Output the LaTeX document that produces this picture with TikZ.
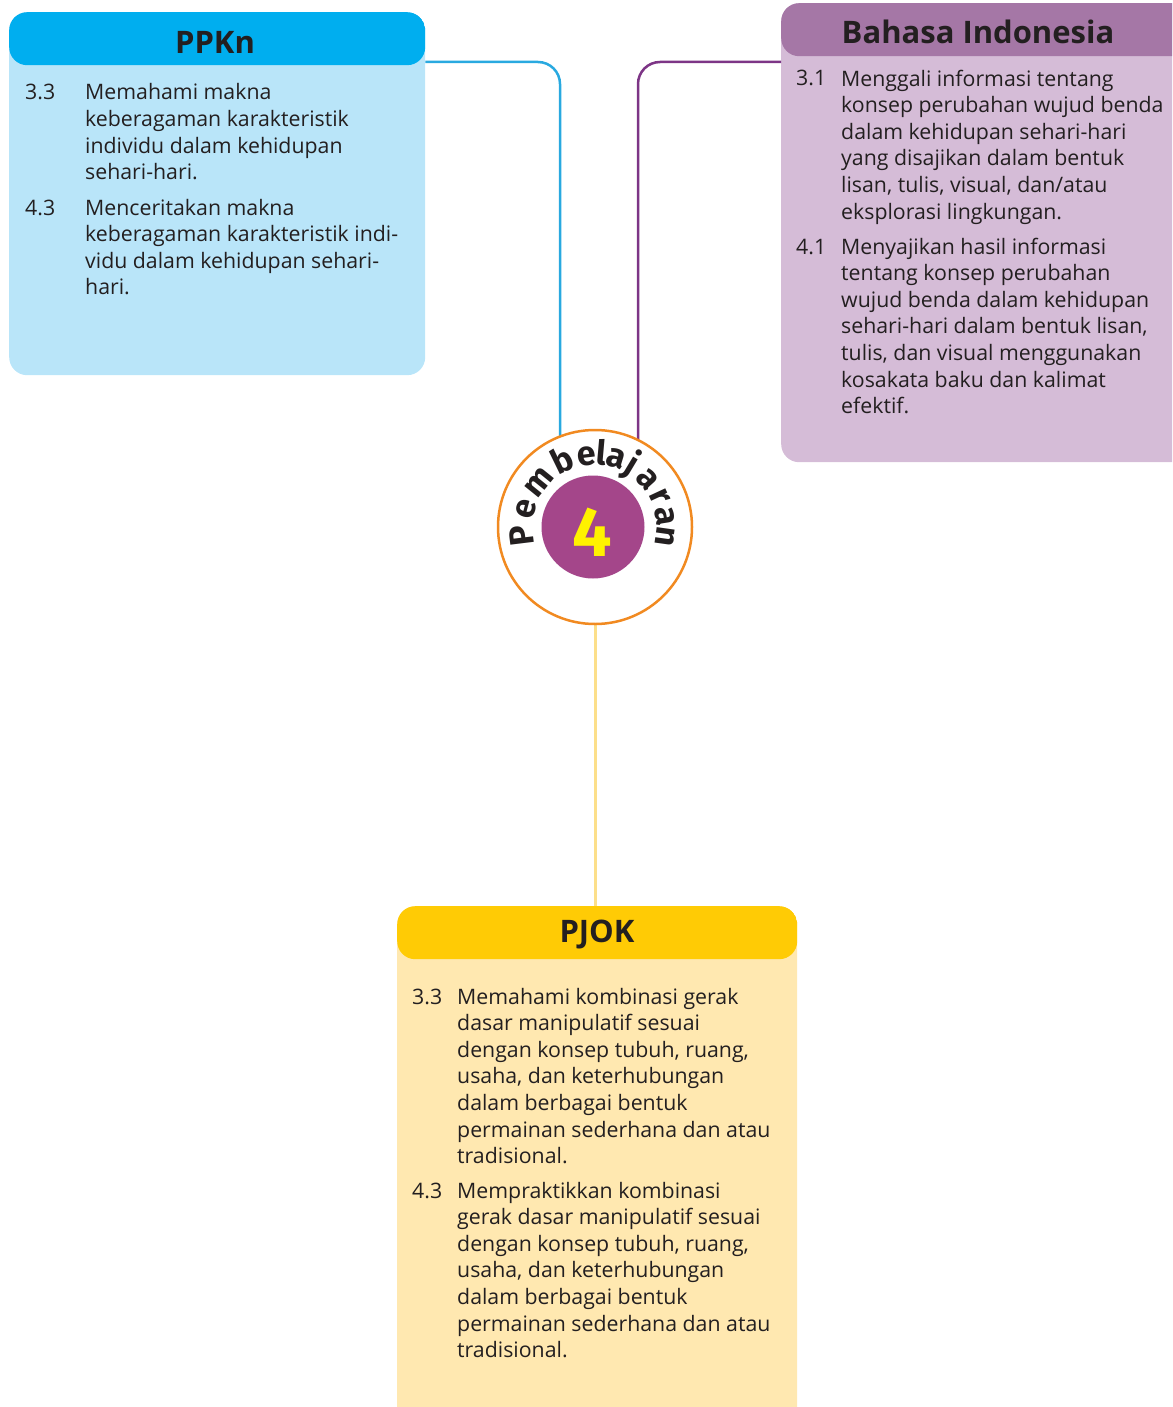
\documentclass[tikz,border=0pt]{standalone}
\usepackage{fontspec}
\setmainfont{Open Sans}
\newfontfamily\dinfont{Fira Sans}
\usetikzlibrary{calc}
\definecolor{ink}{HTML}{231F20}
\definecolor{ppkhead}{HTML}{00AEEF}
\definecolor{ppkbody}{HTML}{B9E5F9}
\definecolor{ppkline}{HTML}{29A9E0}
\definecolor{bihead}{HTML}{A577A6}
\definecolor{bibody}{HTML}{D5BCD7}
\definecolor{biline}{HTML}{7D3586}
\definecolor{pjhead}{HTML}{FFCB05}
\definecolor{pjbody}{HTML}{FFE8B0}
\definecolor{pjline}{HTML}{FCDF8A}
\definecolor{orng}{HTML}{F18A21}
\definecolor{plum}{HTML}{A4468A}
\definecolor{yel}{HTML}{FFF200}
\begin{document}
\begin{tikzpicture}[x=1pt,y=-1pt,
  card/.style n args={4}{anchor=north west, inner sep=0pt, rounded corners=18pt,
    fill=#1, minimum width=#3, minimum height=#4,
    path picture={\fill[#2] (path picture bounding box.north west) rectangle
      ([yshift=-53pt]path picture bounding box.north east);}},
  title/.style={font=\bfseries\fontsize{31}{36}\selectfont, text=ink, inner sep=0pt, anchor=center},
  num/.style={font=\fontsize{21.3}{26.6}\selectfont, text=ink, inner sep=0pt, anchor=base west},
  item/.style={font=\fontsize{21.3}{26.6}\selectfont, text=ink, inner sep=0pt, anchor=base west, align=left},
  conn/.style={line width=2.5pt, rounded corners=22pt},
  arcl/.style={font=\dinfont\bfseries\fontsize{34}{34}\selectfont, text=ink, inner sep=0pt, anchor=base},
]
\useasboundingbox (0,0) rectangle (1172,1407);
\clip (0,0) rectangle (1172,1407);

% boxes
\node[card={ppkbody}{ppkhead}{416pt}{363pt}] (ppkn) at (9,12) {};
\node[card={bibody}{bihead}{440pt}{459pt}] (bahasa) at (781,3) {};
\node[card={pjbody}{pjhead}{400pt}{540pt}] (pjok) at (397,906) {};

\path (595,527) coordinate (cc);

% connectors
\draw[conn, ppkline] (ppkn.east |- 0,62) -| ($(cc)+(-35pt,0)$);
\draw[conn, biline] (bahasa.west |- 0,62) -| ($(cc)+(43pt,0)$);
\draw[line width=3pt, pjline] (cc) -- (cc |- pjok.north);

% central circle
\node[circle, draw=orng, line width=2.5pt, fill=white, minimum size=194pt, inner sep=0pt] (circ) at (cc) {};
\node[circle, fill=plum, minimum size=103pt, inner sep=0pt] (disc) at (593,527) {};
\node[font=\dinfont\bfseries\fontsize{70}{70}\selectfont, text=yel, inner sep=0pt] (four) at (592,532) {4};
\foreach \ch/\a [count=\i] in {P/187, e/165, m/141, b/116, e/97, l/85, a/73, j/59, a/42, r/25, a/9, n/-8}
  \node[arcl, rotate=\a-90] (arc\i) at ($(cc)+(\a:62pt)$) {\ch};

% titles
\node[title] (ppknT) at (215,42) {PPKn};
\node[title] (bahasaT) at (978,32) {Bahasa Indonesia};
\node[title] (pjokT) at (597,935) {PJOK};

% PPKn items (base = last line)
\node[num] (p1n) at (25,100) {3.3};
\node[item] (p1t) at (85,179.8) {Memahami makna\\keberagaman karakteristik\\individu dalam kehidupan\\sehari-hari.};
\node[num] (p2n) at (25,215) {4.3};
\node[item] (p2t) at (85,294.8) {Menceritakan makna\\keberagaman karakteristik indi-\\vidu dalam kehidupan sehari-\\hari.};

% Bahasa items
\node[num] (b1n) at (796,86) {3.1};
\node[item] (b1t) at (841,219) {Menggali informasi tentang\\konsep perubahan wujud benda\\dalam kehidupan sehari-hari\\yang disajikan dalam bentuk\\lisan, tulis, visual, dan/atau\\eksplorasi lingkungan.};
\node[num] (b2n) at (796,254) {4.1};
\node[item] (b2t) at (841,413.6) {Menyajikan hasil informasi\\tentang konsep perubahan\\wujud benda dalam kehidupan\\sehari-hari dalam bentuk lisan,\\tulis, dan visual menggunakan\\kosakata baku dan kalimat\\efektif.};

% PJOK items
\node[num] (j1n) at (412,1004) {3.3};
\node[item] (j1t) at (457,1163.6) {Memahami kombinasi gerak\\dasar manipulatif sesuai\\dengan konsep tubuh, ruang,\\usaha, dan keterhubungan\\dalam berbagai bentuk\\permainan sederhana dan atau\\tradisional.};
\node[num] (j2n) at (412,1198) {4.3};
\node[item] (j2t) at (457,1357.6) {Mempraktikkan kombinasi\\gerak dasar manipulatif sesuai\\dengan konsep tubuh, ruang,\\usaha, dan keterhubungan\\dalam berbagai bentuk\\permainan sederhana dan atau\\tradisional.};
\end{tikzpicture}
\end{document}
